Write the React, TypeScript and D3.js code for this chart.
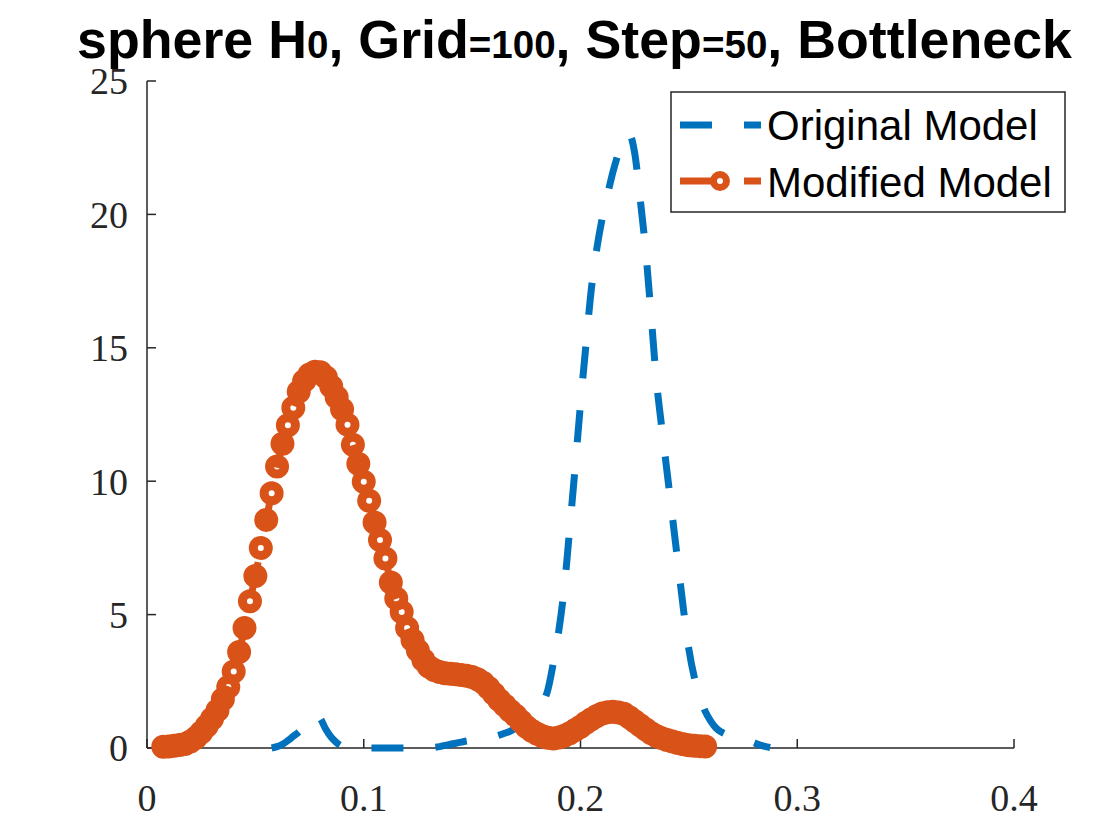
import React from 'react';
import * as d3 from 'd3';

// Tick values and labels
const xTickValues = [0, 0.1, 0.2, 0.3, 0.4];
const xTickLabels = ['0', '0.1', '0.2', '0.3', '0.4'];
const yTickValues = [0, 5, 10, 15, 20, 25];
const yTickLabels = ['0', '5', '10', '15', '20', '25'];

// Modified Model (orange, dashed with circle markers)
const modifiedX = [
  0.0075, 0.0100, 0.0125, 0.0150, 0.0175, 0.0200, 0.0225, 0.0250, 0.0275, 0.0300,
  0.0325, 0.0350, 0.0375, 0.0400, 0.0425, 0.0450, 0.0475, 0.0500, 0.0525, 0.0550,
  0.0575, 0.0600, 0.0625, 0.0650, 0.0675, 0.0700, 0.0725, 0.0750, 0.0775, 0.0800,
  0.0825, 0.0850, 0.0875, 0.0900, 0.0925, 0.0950, 0.0975, 0.1000, 0.1025, 0.1050,
  0.1075, 0.1100, 0.1125, 0.1150, 0.1175, 0.1200, 0.1225, 0.1250, 0.1275, 0.1300,
  0.1325, 0.1350, 0.1375, 0.1400, 0.1425, 0.1450, 0.1475, 0.1500, 0.1525, 0.1550,
  0.1575, 0.1600, 0.1625, 0.1650, 0.1675, 0.1700, 0.1725, 0.1750, 0.1775, 0.1800,
  0.1825, 0.1850, 0.1875, 0.1900, 0.1925, 0.1950, 0.1975, 0.2000, 0.2025, 0.2050,
  0.2075, 0.2100, 0.2125, 0.2150, 0.2175, 0.2200, 0.2225, 0.2250, 0.2275, 0.2300,
  0.2325, 0.2350, 0.2375, 0.2400, 0.2425, 0.2450, 0.2475, 0.2500, 0.2525, 0.2550,
  0.2575,
];
const modifiedY = [
  0.05, 0.06, 0.08, 0.11, 0.15, 0.24, 0.38, 0.58, 0.82, 1.1,
  1.41, 1.83, 2.29, 2.87, 3.6, 4.5, 5.5, 6.45, 7.5, 8.55,
  9.55, 10.55, 11.4, 12.1, 12.75, 13.35, 13.76, 14.0, 14.1, 14.08,
  13.9, 13.55, 13.15, 12.7, 12.12, 11.37, 10.65, 9.98, 9.27, 8.45,
  7.8, 7.1, 6.2, 5.6, 5.1, 4.5, 4.05, 3.65, 3.3, 3.05,
  2.92, 2.85, 2.8, 2.78, 2.76, 2.74, 2.71, 2.66, 2.58, 2.45,
  2.26, 2.03, 1.8, 1.6, 1.4, 1.22, 1.0, 0.8, 0.65, 0.53,
  0.44, 0.38, 0.36, 0.39, 0.46, 0.55, 0.67, 0.8, 0.95, 1.08,
  1.2, 1.29, 1.34, 1.36, 1.33, 1.28, 1.15, 1.0, 0.85, 0.7,
  0.56, 0.45, 0.37, 0.3, 0.24, 0.19, 0.14, 0.1, 0.08, 0.07,
  0.06,
];

// Original Model (blue, dashed)
const originalX = [
  0.0575, 0.0600, 0.0625, 0.0650, 0.0675, 0.0700, 0.0725, 0.0750, 0.0775, 0.0800,
  0.0825, 0.0850, 0.0875, 0.0900, 0.0925, 0.0950, 0.0975, 0.1000, 0.1025, 0.1050,
  0.1075, 0.1100, 0.1125, 0.1150, 0.1175, 0.1200, 0.1225, 0.1250, 0.1275, 0.1300,
  0.1325, 0.1350, 0.1375, 0.1400, 0.1425, 0.1450, 0.1475, 0.1500, 0.1525, 0.1550,
  0.1575, 0.1600, 0.1625, 0.1650, 0.1675, 0.1700, 0.1725, 0.1750, 0.1775, 0.1800,
  0.1825, 0.1850, 0.1875, 0.1900, 0.1925, 0.1950, 0.1975, 0.2000, 0.2025, 0.2050,
  0.2075, 0.2100, 0.2125, 0.2150, 0.2175, 0.2200, 0.2225, 0.2250, 0.2275, 0.2300,
  0.2325, 0.2350, 0.2375, 0.2400, 0.2425, 0.2450, 0.2475, 0.2500, 0.2525, 0.2550,
  0.2575, 0.2600, 0.2625, 0.2650, 0.2675, 0.2700, 0.2725, 0.2750, 0.2775, 0.2800,
  0.2825, 0.2850, 0.2875,
];
const originalY = [
  0.0, 0.05, 0.14, 0.28, 0.44, 0.6, 0.82, 1.08, 1.25, 1.1,
  0.7, 0.4, 0.2, 0.07, 0.02, 0, 0, 0, 0, 0,
  0, 0, 0, 0, 0, 0, 0, 0, 0, 0,
  0.02, 0.05, 0.1, 0.14, 0.18, 0.22, 0.26, 0.29, 0.32, 0.35,
  0.38, 0.42, 0.48, 0.55, 0.63, 0.73, 0.85, 1.0, 1.2, 1.42,
  1.68, 2.2, 3.2, 4.4, 6.0, 8.2, 10.5, 12.9, 15.1, 17.2,
  18.7, 19.85, 20.75, 21.6, 22.3, 22.85, 23.0, 22.3, 20.6, 18.7,
  16.3, 13.8, 12.0, 10.3, 8.6, 6.9, 5.2, 3.7, 2.65, 1.95,
  1.38, 1.02, 0.75, 0.6, 0.5, 0.43, 0.37, 0.33, 0.28, 0.2,
  0.12, 0.06, 0.02,
];

const seriesNames = ['Original Model', 'Modified Model'];

const BLUE = '#0072BD';
const ORANGE = '#D95319';
const AXIS = '#262626';

export default function App() {
  const x = d3.scaleLinear().domain([0, 0.4]).range([147, 1014]);
  const y = d3.scaleLinear().domain([0, 25]).range([748, 81]);

  const line = d3
    .line<[number, number]>()
    .x((d) => x(d[0]))
    .y((d) => y(d[1]))
    .curve(d3.curveMonotoneX);

  const origPts: [number, number][] = originalX.map((v, i) => [v, originalY[i]]);
  const modPts: [number, number][] = modifiedX.map((v, i) => [v, modifiedY[i]]);

  const [x0, x1] = x.range();
  const [yb, yt] = y.range();

  return (
    <svg
      width={1120}
      height={840}
      style={{ position: 'fixed', left: 0, top: 0, background: '#fff' }}
    >
      <rect x={0} y={0} width={1120} height={840} fill="#fff" />

      {/* Title */}
      <text
        x={77}
        y={58}
        fontFamily="'Liberation Sans', Arial, sans-serif"
        fontWeight="bold"
        fontSize={53}
        fill="#000"
        textLength={995}
        lengthAdjust="spacingAndGlyphs"
      >
        sphere H<tspan fontSize={38}>0</tspan>, Grid<tspan fontSize={38}>=100</tspan>, Step
        <tspan fontSize={38}>=50</tspan>, Bottleneck
      </text>

      {/* Axes */}
      <line x1={x0} x2={x1} y1={yb} y2={yb} stroke={AXIS} strokeWidth={1.5} />
      <line x1={x0} x2={x0} y1={yb} y2={yt} stroke={AXIS} strokeWidth={1.5} />
      {xTickValues.map((v, i) => (
        <g key={'xt' + i}>
          <line x1={x(v)} x2={x(v)} y1={yb} y2={yb - 9} stroke={AXIS} strokeWidth={1.5} />
          <text
            x={x(v)}
            y={811}
            textAnchor="middle"
            fontFamily="'Liberation Serif', serif"
            fontSize={38}
            fill={AXIS}
          >
            {xTickLabels[i]}
          </text>
        </g>
      ))}
      {yTickValues.map((v, i) => (
        <g key={'yt' + i}>
          <line x1={x0} x2={x0 + 9} y1={y(v)} y2={y(v)} stroke={AXIS} strokeWidth={1.5} />
          <text
            x={128}
            y={y(v)}
            dy="0.35em"
            textAnchor="end"
            fontFamily="'Liberation Serif', serif"
            fontSize={38}
            fill={AXIS}
          >
            {yTickLabels[i]}
          </text>
        </g>
      ))}

      {/* Original Model */}
      <path
        d={line(origPts) || ''}
        fill="none"
        stroke={BLUE}
        strokeWidth={7}
        strokeDasharray="32 32"
      />

      {/* Modified Model */}
      <path
        d={line(modPts) || ''}
        fill="none"
        stroke={ORANGE}
        strokeWidth={7}
        strokeDasharray="32 32"
      />
      {modPts.map((d, i) => (
        <circle
          key={'m' + i}
          cx={x(d[0])}
          cy={y(d[1])}
          r={7.5}
          fill="none"
          stroke={ORANGE}
          strokeWidth={9}
        />
      ))}

      {/* Legend */}
      <rect x={671} y={92} width={394} height={120} fill="#fff" stroke={AXIS} strokeWidth={1.5} />
      <line x1={680} x2={761} y1={125} y2={125} stroke={BLUE} strokeWidth={7} strokeDasharray="32 32" />
      <line x1={680} x2={761} y1={181} y2={181} stroke={ORANGE} strokeWidth={7} strokeDasharray="32 32" />
      <circle cx={720} cy={181} r={6.5} fill="none" stroke={ORANGE} strokeWidth={7} />
      <text x={767} y={140} fontFamily="'Liberation Sans', Arial, sans-serif" fontSize={42} fill="#000">
        {seriesNames[0]}
      </text>
      <text x={767} y={197} fontFamily="'Liberation Sans', Arial, sans-serif" fontSize={42} fill="#000">
        {seriesNames[1]}
      </text>
    </svg>
  );
}
